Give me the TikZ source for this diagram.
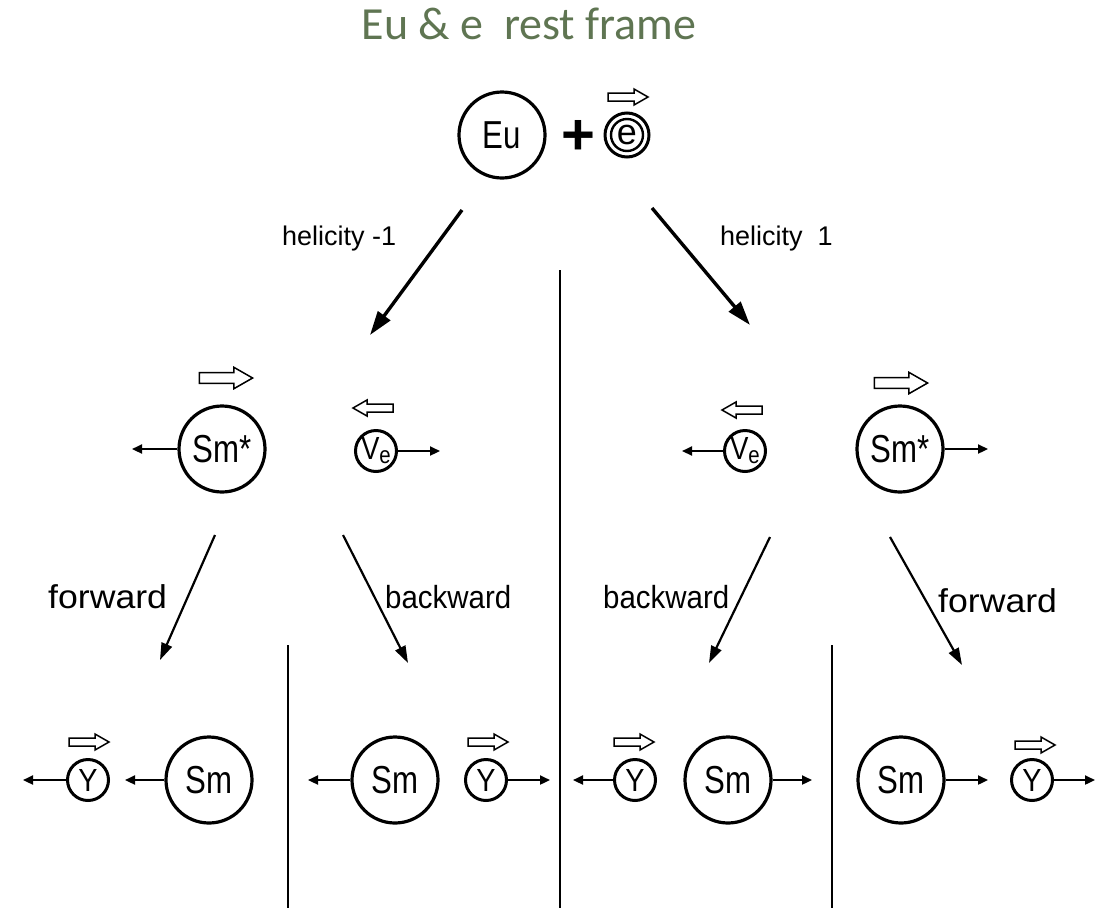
\documentclass[tikz,border=0pt]{standalone}
\usepackage{fontspec}
\setmainfont{Liberation Sans}
\newfontfamily\titlefont{Carlito}
\usetikzlibrary{arrows.meta}
\definecolor{titlegreen}{RGB}{95,117,82}
\newcommand{\cfont}[1]{\fontsize{#1}{#1}\selectfont}
\newcommand{\ctext}[1]{\scalebox{0.8}[1]{\cfont{39}#1}}
\newcommand{\ytext}{\scalebox{0.9}[1]{\cfont{32}Y}}
\newcommand{\vtext}{\scalebox{0.85}[1]{\cfont{32}V\raisebox{-4pt}{\cfont{24}e}}}
\begin{document}
\begin{tikzpicture}[x=1pt,y=-1pt,
  big/.style={circle,draw,line width=3.2pt,minimum size=86pt,inner sep=0pt},
  small/.style={circle,draw,line width=3pt,minimum size=41pt,inner sep=0pt},
  harr/.style={line width=2.2pt,-{Triangle[length=10pt,width=9pt]}},
  diag/.style={line width=2.2pt,-{Triangle[length=17pt,width=11pt]}},
  bigdiag/.style={line width=3.4pt,-{Triangle[length=24pt,width=15pt]}},
  divider/.style={line width=2pt},
  lab/.style={anchor=base west,inner sep=0pt},
  pics/harrow/.style={code={
    \draw[line width=1.5pt] (-20,-4) -- (6,-4) -- (6,-8) -- (20,0) -- (6,8) -- (6,4) -- (-20,4) -- cycle;}}
]
\useasboundingbox (0,0) rectangle (1097,908);

% title
\node[anchor=base,inner sep=0pt,text=titlegreen] (title) at (529,39) {\titlefont\cfont{46}Eu \& e\ \ rest frame};

% top row
\node[big] (eu) at (502,135) {\ctext{Eu}};
\node[inner sep=0pt] (plus) at (578,137) {\cfont{58}\textbf{+}};
\node[circle,draw,line width=3pt,minimum size=44pt,inner sep=0pt] (e) at (627,135) {};
\node[circle,draw,line width=2.4pt,minimum size=32pt,inner sep=0pt] (ein) at (e.center) {\cfont{36}e};
\pic at (628,97) {harrow};

% big arrows
\coordinate (a1s) at (462,210); \coordinate (a1e) at (370,335);
\coordinate (a2s) at (652,208); \coordinate (a2e) at (750,325);
\draw[bigdiag] (a1s) -- (a1e);
\draw[bigdiag] (a2s) -- (a2e);
\node[lab] (h1) at (282,245) {\cfont{27}helicity -1};
\node[lab] (h2) at (720,245) {\cfont{27}helicity\ \ 1};

% vertical dividers
\coordinate (v1t) at (560,270); \coordinate (v1b) at (560,908);
\coordinate (v2t) at (288,645); \coordinate (v2b) at (288,908);
\coordinate (v3t) at (832,645); \coordinate (v3b) at (832,908);
\draw[divider] (v1t) -- (v1b);
\draw[divider] (v2t) -- (v2b);
\draw[divider] (v3t) -- (v3b);

% middle row
\node[big] (smL) at (222,449) {\ctext{Sm*}};
\coordinate (smLa) at (132,449);
\draw[harr] (smL.west) -- (smLa);
\pic[scale=1.33] at (226,378) {harrow};

\node[small] (nuL) at (376,451) {\vtext};
\coordinate (nuLa) at (440,451);
\draw[harr] (nuL.east) -- (nuLa);
\pic[xscale=-1] at (373,408) {harrow};

\node[small] (nuR) at (745,451) {\vtext};
\coordinate (nuRa) at (682,451);
\draw[harr] (nuR.west) -- (nuRa);
\pic[xscale=-1] at (742,410) {harrow};

\node[big] (smR) at (900,449) {\ctext{Sm*}};
\coordinate (smRa) at (988,449);
\draw[harr] (smR.east) -- (smRa);
\pic[scale=1.33] at (901,383) {harrow};

% middle arrows
\coordinate (d1s) at (215,535); \coordinate (d1e) at (160,660);
\coordinate (d2s) at (343,535); \coordinate (d2e) at (408,663);
\coordinate (d3s) at (770,537); \coordinate (d3e) at (709,663);
\coordinate (d4s) at (890,537); \coordinate (d4e) at (962,665);
\draw[diag] (d1s) -- (d1e);
\draw[diag] (d2s) -- (d2e);
\draw[diag] (d3s) -- (d3e);
\draw[diag] (d4s) -- (d4e);
\node[lab] (f1) at (48,608) {\scalebox{1.08}[1]{\cfont{33}forward}};
\node[lab] (b1) at (385,608) {\scalebox{0.92}[1]{\cfont{32}backward}};
\node[lab] (b2) at (603,608) {\scalebox{0.92}[1]{\cfont{32}backward}};
\node[lab] (f2) at (938,612) {\scalebox{1.08}[1]{\cfont{33}forward}};

% bottom row
\node[small] (g1) at (88,780) {\ytext};
\coordinate (g1a) at (23,780);
\draw[harr] (g1.west) -- (g1a);
\pic at (89,742) {harrow};
\node[big] (sm1) at (209,780) {\ctext{Sm}};
\coordinate (sm1a) at (125,780);
\draw[harr] (sm1.west) -- (sm1a);

\node[big] (sm2) at (395,780) {\ctext{Sm}};
\coordinate (sm2a) at (308,780);
\draw[harr] (sm2.west) -- (sm2a);
\node[small] (g2) at (486,780) {\ytext};
\coordinate (g2a) at (550,780);
\draw[harr] (g2.east) -- (g2a);
\pic at (488,742) {harrow};

\node[small] (g3) at (635,780) {\ytext};
\coordinate (g3a) at (573,780);
\draw[harr] (g3.west) -- (g3a);
\pic at (634,742) {harrow};
\node[big] (sm3) at (728,780) {\ctext{Sm}};
\coordinate (sm3a) at (812,780);
\draw[harr] (sm3.east) -- (sm3a);

\node[big] (sm4) at (901,780) {\ctext{Sm}};
\coordinate (sm4a) at (988,780);
\draw[harr] (sm4.east) -- (sm4a);
\node[small] (g4) at (1032,780) {\ytext};
\coordinate (g4a) at (1095,780);
\draw[harr] (g4.east) -- (g4a);
\pic at (1035,745) {harrow};
\end{tikzpicture}
\end{document}
